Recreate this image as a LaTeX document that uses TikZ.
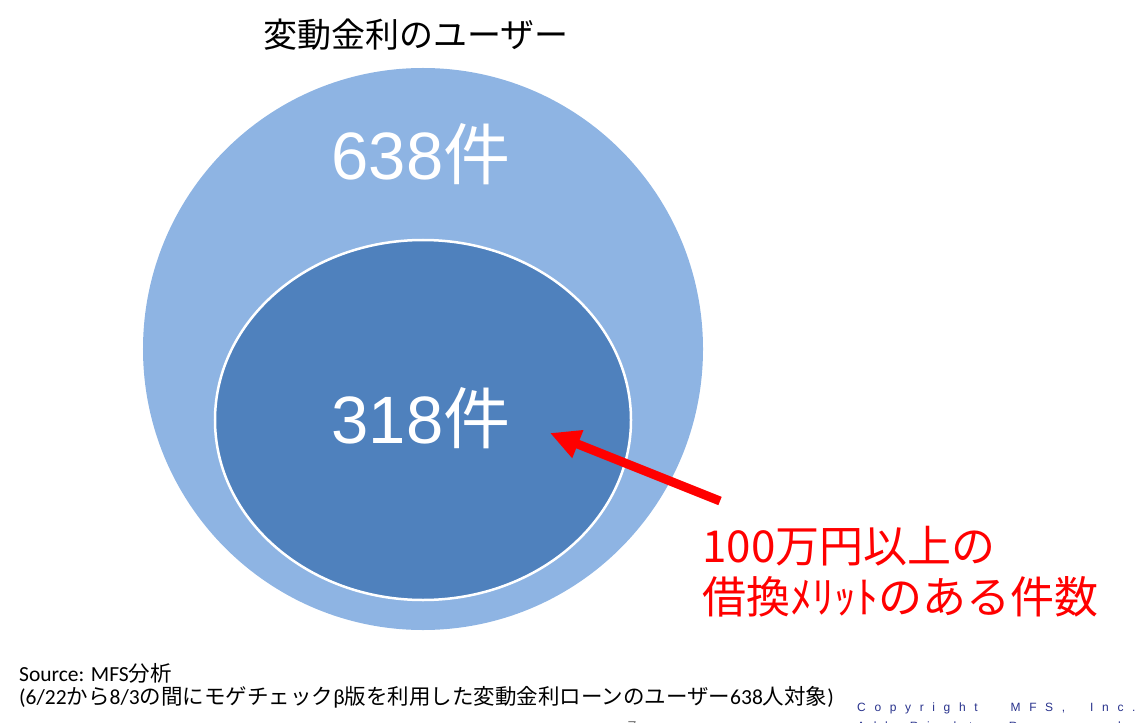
\documentclass[tikz,border=0pt]{standalone}
\usepackage{fontspec}
\setmainfont{Liberation Sans}
\newfontfamily\jpfont{Noto Sans CJK JP}
\newfontfamily\srcfont{Carlito}
\newfontfamily\copyfont[LetterSpace=72]{Liberation Sans}
\usepackage{tikz}
\usetikzlibrary{arrows.meta,positioning,shapes.geometric}
\definecolor{outerblue}{RGB}{142,180,227}
\definecolor{innerblue}{RGB}{79,129,189}
\definecolor{copyblue}{RGB}{40,50,140}
\newcommand{\jp}[1]{{\jpfont #1}}

\begin{document}
\begin{tikzpicture}[x=1bp, y=-1bp,
    outer/.style={ellipse, fill=outerblue, inner sep=0pt,
                  minimum width=560bp, minimum height=562bp},
    inner/.style={ellipse, fill=innerblue, draw=white, line width=2.5bp,
                  inner sep=0pt, minimum width=416bp, minimum height=360bp},
    count/.style={text=white, inner sep=0pt,
                  font=\fontsize{67bp}{70bp}\selectfont},
    title/.style={inner sep=0pt, font=\jpfont\fontsize{34bp}{37bp}\selectfont},
    note/.style={text=red, align=left, inner sep=0pt,
                 font=\jpfont\fontsize{44bp}{51bp}\selectfont},
    src/.style={align=left, inner sep=0pt,
                font=\srcfont\fontsize{21.5bp}{23bp}\selectfont},
    copy/.style={text=copyblue, inner sep=0pt,
                 font=\copyfont\fontsize{12bp}{14bp}\selectfont},
    arrow/.style={-{Triangle[length=30bp,width=28bp]}, red, line width=9bp}
  ]
  \useasboundingbox (0,0) rectangle (1141,723);

  % Nodes
  \node[title] (title) at (416,35) {\jp{変動金利のユーザー}};
  \node[outer] (users) at (423,349) {};
  \node[inner] (merit) at (423,420) {};
  \node[count] (allcnt) at (421,154) {638\jp{件}};
  \node[count] (meritcnt) at (421,418) {318\jp{件}};
  \node[note, anchor=west] (note) at (702,572)
       {100万円以上の\\借換ﾒﾘｯﾄのある件数};

  % note -> inner ellipse
  \coordinate (tail) at (720,501);
  \coordinate (tip) at (550,433);
  \draw[arrow] (tail) -- (tip);

  % Source
  \node[src, anchor=west] (source) at (19,686)
       {Source: MFS\jp{分析}\\
        (6/22\jp{から}8/3\jp{の間にモゲチェック}β\jp{版を利用した変動金利ローンのユーザー}638\jp{人対象})};

  % footer, cut off by the page edge
  \begin{scope}
    \clip (0,0) rectangle (1141,723);
    \node[copy, anchor=west] (copyr) at (857,708)
         {Copyright\hspace{21bp} MFS,\hspace{13bp} Inc.};
    \node[copy, anchor=west] (rights) at (857,727)
         {All\hspace{10bp} Rights\hspace{10bp} Reserved};
    \node[text=gray, inner sep=0pt, font=\fontsize{16bp}{18bp}\selectfont]
         (page) at (632,727) {7};
  \end{scope}
\end{tikzpicture}
\end{document}
